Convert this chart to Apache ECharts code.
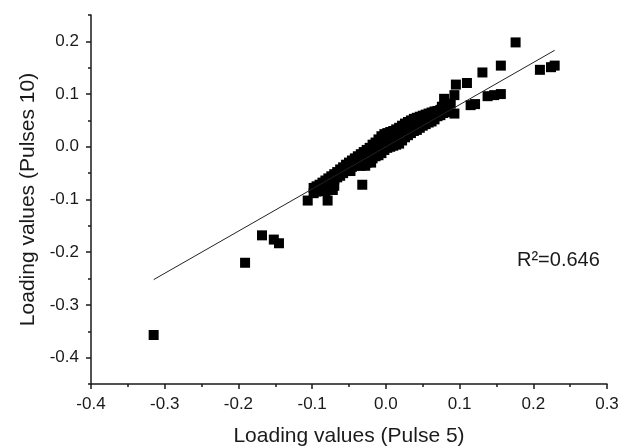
<!DOCTYPE html>
<html>
<head>
<meta charset="utf-8">
<script src="https://cdn.jsdelivr.net/npm/echarts@6/dist/echarts.min.js"></script>
<style>
  html, body { margin: 0; padding: 0; background: #fff; }
  #main { width: 621px; height: 448px; }
</style>
</head>
<body>
<div id="main"></div>
<script>
// 散点: [Pulse 5, Pulses 10]
const outliers = [
  [-0.315, -0.357], [-0.191, -0.220], [-0.168, -0.168], [-0.152, -0.176], [-0.145, -0.183],
  [-0.106, -0.102], [-0.079, -0.102], [-0.032, -0.072],
  [0.176, 0.198], [0.156, 0.154], [0.131, 0.141], [0.110, 0.121], [0.095, 0.118],
  [0.093, 0.098], [0.079, 0.091], [0.093, 0.063], [0.115, 0.079], [0.121, 0.081],
  [0.138, 0.096], [0.147, 0.098], [0.156, 0.100],
  [0.209, 0.146], [0.224, 0.151], [0.229, 0.154]
];
const cluster = [
  [-0.098, -0.078], [-0.098, -0.088], [-0.094, -0.075], [-0.094, -0.085],
  [-0.090, -0.072], [-0.090, -0.084], [-0.086, -0.068], [-0.086, -0.080],
  [-0.082, -0.064], [-0.082, -0.076], [-0.082, -0.084], [-0.078, -0.060], [-0.078, -0.072], [-0.078, -0.082],
  [-0.074, -0.056], [-0.074, -0.068], [-0.072, -0.082], [-0.070, -0.052], [-0.070, -0.062], [-0.070, -0.074],
  [-0.066, -0.048], [-0.066, -0.058], [-0.062, -0.043], [-0.062, -0.055],
  [-0.058, -0.039], [-0.058, -0.050], [-0.054, -0.034], [-0.054, -0.046],
  [-0.050, -0.030], [-0.050, -0.042], [-0.048, -0.046], [-0.046, -0.026], [-0.046, -0.038],
  [-0.042, -0.022], [-0.042, -0.036], [-0.038, -0.018], [-0.038, -0.030],
  [-0.034, -0.014], [-0.034, -0.026], [-0.034, -0.036], [-0.030, -0.010], [-0.030, -0.022], [-0.030, -0.034],
  [-0.028, -0.036], [-0.026, -0.006], [-0.026, -0.018], [-0.026, -0.030],
  [-0.022, -0.002], [-0.022, -0.014], [-0.022, -0.026], [-0.020, -0.030],
  [-0.018, 0.004], [-0.018, -0.008], [-0.018, -0.022], [-0.014, 0.008], [-0.014, -0.004], [-0.014, -0.018],
  [-0.010, 0.014], [-0.010, 0.000], [-0.010, -0.016], [-0.006, 0.020], [-0.006, 0.006], [-0.006, -0.012],
  [-0.002, 0.024], [-0.002, 0.010], [-0.002, -0.006], [0.002, 0.026], [0.002, 0.012], [0.002, -0.002],
  [0.006, 0.028], [0.006, 0.016], [0.006, 0.000], [0.010, 0.030], [0.010, 0.018], [0.010, 0.002],
  [0.014, 0.033], [0.014, 0.020], [0.014, 0.004], [0.018, 0.036], [0.018, 0.022], [0.018, 0.006],
  [0.022, 0.040], [0.022, 0.026], [0.022, 0.012], [0.026, 0.044], [0.026, 0.030], [0.026, 0.018],
  [0.030, 0.047], [0.030, 0.034], [0.030, 0.022], [0.034, 0.050], [0.034, 0.038], [0.034, 0.026],
  [0.038, 0.053], [0.038, 0.040], [0.038, 0.030], [0.042, 0.055], [0.042, 0.044], [0.042, 0.032],
  [0.046, 0.057], [0.046, 0.046], [0.046, 0.036], [0.050, 0.059], [0.050, 0.048], [0.050, 0.040],
  [0.054, 0.061], [0.054, 0.050], [0.054, 0.043], [0.058, 0.063], [0.058, 0.053], [0.058, 0.046],
  [0.062, 0.065], [0.062, 0.056], [0.062, 0.048], [0.066, 0.067], [0.066, 0.058], [0.066, 0.052],
  [0.070, 0.068], [0.070, 0.058], [0.074, 0.070], [0.074, 0.060], [0.076, 0.076], [0.078, 0.064],
  [0.082, 0.066], [0.084, 0.074], [0.088, 0.082]
];
// 拟合直线端点
const fitLine = [[-0.315, -0.252], [0.229, 0.183]];

const yMajor = [-0.4, -0.3, -0.2, -0.1, 0.0, 0.1, 0.2];
const yMinor = [-0.45, -0.35, -0.25, -0.15, -0.05, 0.05, 0.15, 0.25];
const r2Text = 'R²=0.646';

const font = '"Liberation Sans", Arial, sans-serif';
const ink = '#1a1a1a';

var myChart = echarts.init(document.getElementById('main'));

var option = {
  animation: false,
  grid: { left: 91, right: 14, top: 15, bottom: 64, outerBoundsMode: 'none' },
  xAxis: {
    type: 'value',
    min: -0.4,
    max: 0.3,
    interval: 0.1,
    name: 'Loading values (Pulse 5)',
    nameLocation: 'middle',
    nameGap: 42,
    nameTextStyle: { fontFamily: font, fontSize: 21, color: ink },
    axisLine: { show: true, onZero: false, lineStyle: { color: ink, width: 1.5 } },
    axisTick: { show: true, inside: false, length: 5, lineStyle: { color: ink, width: 1.5 } },
    minorTick: { show: true, splitNumber: 2, length: 3, lineStyle: { color: ink, width: 1.5 } },
    axisLabel: {
      fontFamily: font, fontSize: 17, color: ink, margin: 12,
      formatter: v => v.toFixed(1)
    },
    splitLine: { show: false }
  },
  yAxis: [
    {
      type: 'value',
      min: -0.45,
      max: 0.25,
      name: 'Loading values (Pulses 10)',
      nameLocation: 'middle',
      nameGap: 52,
      nameTextStyle: { fontFamily: font, fontSize: 21, color: ink },
      axisLine: { show: true, onZero: false, lineStyle: { color: ink, width: 1.5 } },
      axisTick: { show: true, inside: false, length: 5, customValues: yMajor, lineStyle: { color: ink, width: 1.5 } },
      axisLabel: {
        fontFamily: font, fontSize: 17, color: ink, margin: 12,
        customValues: yMajor,
        formatter: v => v.toFixed(1)
      },
      splitLine: { show: false }
    },
    {
      type: 'value',
      position: 'left',
      min: -0.45,
      max: 0.25,
      axisLine: { show: false, onZero: false },
      axisTick: { show: true, inside: false, length: 3, customValues: yMinor, lineStyle: { color: ink, width: 1.5 } },
      axisLabel: { show: false },
      splitLine: { show: false }
    }
  ],
  series: [
    {
      type: 'scatter',
      symbol: 'rect',
      symbolSize: 10,
      itemStyle: { color: '#000', opacity: 1 },
      data: cluster.concat(outliers)
    },
    {
      type: 'line',
      symbol: 'none',
      lineStyle: { color: '#222', width: 1 },
      data: fitLine
    }
  ],
  graphic: [
    {
      type: 'text',
      left: 517,
      top: 250,
      style: { text: r2Text, font: '20px ' + font, fill: ink }
    }
  ]
};

myChart.setOption(option);
</script>
</body>
</html>
